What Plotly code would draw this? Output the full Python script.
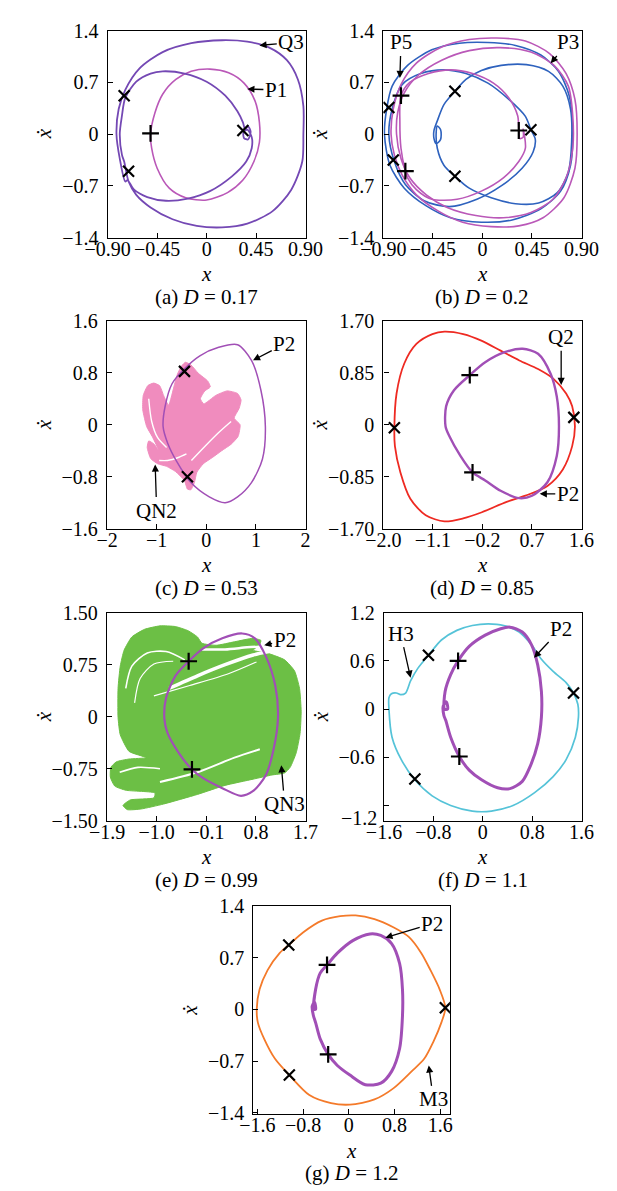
import plotly.graph_objects as go

W, H = 617, 1191
FONT = "Liberation Serif"

# ---------------- (a) D = 0.17 ----------------
a_q3_x = [-0.74, -0.79, -0.82, -0.80, -0.74, -0.61, -0.40, -0.14, 0.14, 0.37, 0.57, 0.73, 0.83, 0.88, 0.88,
          0.87, 0.77, 0.60, 0.37, 0.14, -0.09, -0.31, -0.51, -0.64, -0.71, -0.75,
          -0.77, -0.79, -0.77, -0.74, -0.64, -0.51, -0.40, -0.20, 0.00, 0.17, 0.28, 0.33,
          0.35, 0.376, 0.40, 0.376, 0.34, 0.336, 0.37, 0.41,
          0.41, 0.36, 0.23, 0.03, -0.17, -0.37, -0.54, -0.66, -0.72, -0.74]
a_q3_y = [-0.64, -0.33, 0.00, 0.34, 0.60, 0.89, 1.11, 1.23, 1.27, 1.25, 1.17, 1.00, 0.74, 0.38, 0.00,
          -0.37, -0.75, -1.04, -1.21, -1.26, -1.24, -1.15, -0.99, -0.82, -0.64, -0.37,
          -0.28, 0.00, 0.25, 0.49, 0.71, 0.82, 0.85, 0.82, 0.71, 0.52, 0.31, 0.16,
          0.07, 0.106, 0.035, -0.071, -0.053, 0.027, 0.062, -0.04,
          -0.19, -0.37, -0.57, -0.77, -0.87, -0.90, -0.85, -0.75, -0.62, -0.64]
a_p1_x = [-0.51, -0.47, -0.40, -0.28, -0.14, 0.03, 0.20, 0.34, 0.44, 0.48, 0.48, 0.43, 0.33, 0.19, 0.00,
          -0.19, -0.34, -0.45, -0.50, -0.51]
a_p1_y = [0.00, 0.29, 0.54, 0.74, 0.85, 0.88, 0.83, 0.69, 0.45, 0.16, -0.11, -0.37, -0.62, -0.79, -0.89,
          -0.86, -0.73, -0.46, -0.19, 0.00]
a_cross_x, a_cross_y = [-0.75, -0.71, 0.33], [0.52, -0.50, 0.05]
a_plus_x, a_plus_y = [-0.51], [0.01]

# ---------------- (b) D = 0.2 ----------------
b_p3_outer_x = [-0.83, -0.81, -0.74, -0.60, -0.37, -0.12, 0.13, 0.39, 0.61, 0.76, 0.84, 0.86, 0.84, 0.74, 0.55,
                0.33, 0.08, -0.18, -0.40, -0.60, -0.73, -0.80, -0.83]
b_p3_outer_y = [0.00, 0.34, 0.67, 0.96, 1.18, 1.28, 1.30, 1.26, 1.09, 0.82, 0.47, 0.00, -0.46, -0.86, -1.13,
                -1.24, -1.25, -1.19, -1.04, -0.82, -0.55, -0.28, 0.00]
b_p3_mid_x = [-0.78, -0.77, -0.71, -0.58, -0.37, -0.12, 0.16, 0.44, 0.65, 0.78, 0.82, 0.82, 0.76, 0.64, 0.44,
              0.19, -0.06, -0.32, -0.51, -0.66, -0.74, -0.78]
b_p3_mid_y = [0.00, 0.29, 0.56, 0.80, 1.00, 1.13, 1.17, 1.11, 0.93, 0.65, 0.25, -0.19, -0.59, -0.88, -1.06,
              -1.13, -1.10, -0.99, -0.82, -0.59, -0.33, 0.00]
b_p3_inner_x = [-0.70, -0.74, -0.75, -0.74, -0.66, -0.49, -0.29, -0.09, 0.10, 0.24, 0.32, 0.33, 0.34, 0.37,
                0.37, 0.39, 0.33, 0.19, -0.01, -0.23, -0.46, -0.60, -0.68, -0.70]
b_p3_inner_y = [-0.50, -0.19, 0.16, 0.52, 0.70, 0.82, 0.87, 0.82, 0.69, 0.49, 0.25, 0.07, -0.06, -0.04,
                0.07, -0.19, -0.37, -0.59, -0.77, -0.88, -0.88, -0.75, -0.59, -0.50]
b_p5_outer_x = [-0.89, -0.87, -0.82, -0.68, -0.46, -0.21, 0.05, 0.30, 0.53, 0.69, 0.79, 0.82, 0.80, 0.71, 0.53,
                0.27, -0.01, -0.29, -0.51, -0.71, -0.84, -0.89]
b_p5_outer_y = [0.00, 0.34, 0.65, 0.93, 1.14, 1.23, 1.24, 1.20, 1.07, 0.85, 0.51, 0.00, -0.42, -0.77, -1.01,
                -1.16, -1.19, -1.13, -0.97, -0.73, -0.42, 0.00]
b_p5_loop_x = [-0.25, -0.35, -0.41, -0.44, -0.44, -0.42, -0.38, -0.38, -0.41, -0.42, -0.41, -0.35, -0.25, -0.12,
               0.08, 0.30, 0.51, 0.68, 0.78, 0.81, 0.80, 0.73, 0.60, 0.40, 0.17, -0.01, -0.15, -0.25]
b_p5_loop_y = [0.58, 0.40, 0.18, 0.05, -0.06, -0.13, -0.07, 0.06, 0.11, 0.03, -0.19, -0.42, -0.57, -0.73,
               -0.86, -0.94, -0.93, -0.79, -0.51, -0.11, 0.34, 0.65, 0.85, 0.94, 0.93, 0.86, 0.74, 0.58]
b_p5_strand_x = [-0.85, -0.82, -0.73, -0.56, -0.35, -0.15, 0.05, 0.24, 0.39, 0.44, 0.48, 0.46, 0.36, 0.17,
                 -0.05, -0.30, -0.53, -0.70, -0.80, -0.85]
b_p5_strand_y = [0.00, 0.34, 0.67, 0.82, 0.87, 0.82, 0.69, 0.47, 0.24, 0.06, -0.07, -0.24, -0.46, -0.70,
                 -0.88, -0.98, -0.90, -0.68, -0.37, 0.00]
b_cross_x, b_cross_y = [-0.85, -0.81, -0.25, -0.25, 0.44], [0.36, -0.35, 0.58, -0.57, 0.06]
b_plus_x, b_plus_y = [-0.74, -0.70, 0.33], [0.52, -0.50, 0.05]

# ---------------- (c) D = 0.53 ----------------
c_qn2_x = [-0.58, -0.50, -0.42, -0.31, -0.16, 0.03, 0.08, -0.03, -0.12, -0.05, 0.19, 0.42, 0.63, 0.70, 0.66,
           0.56, 0.68, 0.64, 0.50, 0.31, 0.13, -0.06, -0.19, -0.24, -0.31, -0.38, -0.44, -0.62, -0.80, -0.98,
           -1.12, -1.19, -1.16, -1.05, -0.94, -1.09, -1.20, -1.28, -1.27, -1.18, -1.06, -0.94, -0.86,
           -0.76, -0.64, -0.58]
c_qn2_y = [0.78, 0.90, 0.96, 0.92, 0.79, 0.67, 0.58, 0.52, 0.40, 0.32, 0.45, 0.52, 0.48, 0.38, 0.25,
           0.10, 0.00, -0.18, -0.30, -0.40, -0.50, -0.60, -0.73, -0.89, -1.00, -0.99, -0.86, -0.72, -0.64, -0.60,
           -0.52, -0.35, -0.25, -0.30, -0.42, -0.18, -0.03, 0.23, 0.45, 0.60, 0.64, 0.60, 0.45,
           0.30, 0.62, 0.78]
c_streak1_x = [-1.16, -1.10, -0.98, -0.80]
c_streak1_y = [0.40, 0.05, -0.20, -0.35]
c_streak2_x = [-0.95, -0.78, -0.55, -0.40]
c_streak2_y = [-0.55, -0.55, -0.50, -0.45]
c_streak3_x = [-0.30, -0.05, 0.25, 0.50]
c_streak3_y = [-0.55, -0.35, -0.12, 0.05]
c_p2_x = [-0.87, -0.83, -0.69, -0.44, -0.13, 0.25, 0.63, 0.91, 1.10, 1.19, 1.13, 0.91, 0.63, 0.38, 0.06,
          -0.31, -0.60, -0.78, -0.87]
c_p2_y = [-0.03, 0.28, 0.63, 0.86, 1.06, 1.19, 1.23, 0.99, 0.53, -0.03, -0.53, -0.89, -1.11, -1.20, -1.11,
          -0.89, -0.56, -0.28, -0.03]
c_cross_x, c_cross_y = [-0.44, -0.38], [0.82, -0.80]

# ---------------- (d) D = 0.85 ----------------
d_q2_x = [-1.80, -1.76, -1.62, -1.40, -1.11, -0.89, -0.55, -0.21, 0.13, 0.47, 0.81, 1.09, 1.32, 1.43, 1.48,
          1.43, 1.26, 0.98, 0.58, 0.24, -0.21, -0.55, -0.89, -1.23, -1.51, -1.69, -1.79, -1.80]
d_q2_y = [-0.05, 0.51, 1.00, 1.32, 1.48, 1.52, 1.48, 1.37, 1.21, 1.05, 0.91, 0.75, 0.51, 0.30, -0.03,
          -0.35, -0.73, -1.00, -1.16, -1.26, -1.43, -1.53, -1.58, -1.48, -1.21, -0.78, -0.35, -0.05]
d_p2_x = [-0.87, -0.86, -0.72, -0.43, -0.15, 0.19, 0.53, 0.81, 1.04, 1.15, 1.19, 1.15, 0.98, 0.70, 0.47,
          0.13, -0.15, -0.38, -0.60, -0.80, -0.87]
d_p2_y = [-0.03, 0.30, 0.56, 0.81, 1.02, 1.18, 1.24, 1.16, 0.83, 0.46, -0.03, -0.51, -0.94, -1.16, -1.20,
          -1.08, -0.91, -0.78, -0.51, -0.19, -0.03]
d_cross_x, d_cross_y = [-1.80, 1.46], [-0.05, 0.12]
d_plus_x, d_plus_y = [-0.43, -0.38], [0.81, -0.78]

# ---------------- (e) D = 0.99 ----------------
e_qn3_x = [-1.70, -1.70, -1.66, -1.59, -1.45, -1.22, -0.94, -0.66, -0.43, -0.26, -0.18, 0.08, 0.41, 0.75, 0.89,
           0.86, 0.75, 1.03, 1.32, 1.50, 1.59, 1.62, 1.60, 1.53, 1.42, 1.32, 1.09, 0.75, 0.24, -0.26, -0.88,
           -1.28, -1.53, -1.61, -1.48, -1.05, -1.03, -1.56, -1.76, -1.84, -1.83, -1.73, -1.50, -1.19, -1.50,
           -1.66, -1.70]
e_qn3_y = [-0.01, 0.41, 0.73, 0.96, 1.15, 1.26, 1.31, 1.30, 1.24, 1.15, 1.06, 1.03, 1.08, 1.13, 1.10,
           1.03, 0.96, 0.91, 0.82, 0.66, 0.41, 0.08, -0.24, -0.52, -0.73, -0.81, -0.84, -0.90, -0.99, -1.12, -1.26,
           -1.33, -1.34, -1.28, -1.20, -1.17, -1.10, -1.06, -1.00, -0.87, -0.73, -0.65, -0.61, -0.59, -0.50,
           -0.26, -0.01]
e_gap1_x = [-0.77, -0.26, 0.24, 0.75, 1.03]
e_gap1_y = [0.41, 0.59, 0.75, 0.89, 0.94]
e_gap2_x = [-0.18, 0.24, 0.64, 0.86]
e_gap2_y = [0.97, 0.97, 1.00, 1.01]
e_gap3_x = [-0.94, -0.26, 0.41, 0.87]
e_gap3_y = [-0.94, -0.80, -0.59, -0.47]
e_gap4_x = [-1.56, -1.45, -1.17, -0.83, -0.49]
e_gap4_y = [0.41, 0.73, 0.92, 0.94, 0.82]
e_gap5_x = [-1.67, -1.34, -0.94]
e_gap5_y = [-0.80, -0.73, -0.75]
e_gap6_x = [-1.05, -0.40, 0.30, 0.81]
e_gap6_y = [0.30, 0.45, 0.62, 0.79]
e_gap7_x = [-1.40, -1.30, -1.05, -0.70]
e_gap7_y = [0.20, 0.55, 0.76, 0.80]
e_p2_x = [-0.86, -0.83, -0.66, -0.42, -0.15, 0.19, 0.55, 0.78, 0.98, 1.15, 1.20, 1.12, 0.98, 0.75, 0.53,
          0.19, -0.15, -0.36, -0.60, -0.80, -0.86]
e_p2_y = [-0.03, 0.27, 0.59, 0.80, 0.99, 1.13, 1.20, 1.13, 0.87, 0.45, 0.00, -0.47, -0.84, -1.07, -1.14,
          -1.03, -0.89, -0.76, -0.52, -0.24, -0.03]
e_plus_x, e_plus_y = [-0.42, -0.36], [0.80, -0.76]

# ---------------- (f) D = 1.1 ----------------
f_h3_x = [-1.52, -1.52, -1.48, -1.40, -1.33, -1.25, -1.17, -1.05, -0.88, -0.67, -0.42, -0.17, 0.09, 0.34, 0.59,
          0.79, 0.94, 1.14, 1.35, 1.47, 1.54, 1.55, 1.50, 1.35, 1.14, 0.84, 0.49, 0.14, -0.17, -0.52, -0.82,
          -1.10, -1.32, -1.47, -1.52]
f_h3_y = [0.00, 0.14, 0.19, 0.20, 0.18, 0.20, 0.35, 0.51, 0.67, 0.86, 0.98, 1.04, 1.06, 1.04, 0.96,
          0.80, 0.63, 0.47, 0.33, 0.20, 0.06, -0.10, -0.35, -0.63, -0.84, -1.04, -1.20, -1.27, -1.27, -1.20, -1.08,
          -0.88, -0.63, -0.35, 0.00]
f_p2_x = [-0.62, -0.61, -0.52, -0.40, -0.22, 0.04, 0.29, 0.44, 0.64, 0.79, 0.89, 0.95, 0.95, 0.89, 0.77,
          0.64, 0.44, 0.24, -0.02, -0.22, -0.38, -0.52, -0.60, -0.63, -0.64, -0.59, -0.57, -0.62]
f_p2_y = [0.00, 0.22, 0.43, 0.60, 0.78, 0.92, 1.00, 1.02, 0.96, 0.80, 0.55, 0.22, -0.10, -0.43, -0.71,
          -0.90, -0.99, -0.98, -0.88, -0.76, -0.59, -0.35, -0.14, -0.08, 0.04, 0.09, 0.00, 0.00]
f_cross_x, f_cross_y = [-0.88, 1.47, -1.10], [0.67, 0.20, -0.87]
f_plus_x, f_plus_y = [-0.40, -0.38], [0.60, -0.59]

# ---------------- (g) D = 1.2 ----------------
g_m3_x = [-1.61, -1.56, -1.42, -1.21, -1.05, -0.80, -0.47, -0.15, 0.12, 0.45, 0.78, 1.05, 1.27, 1.43, 1.59,
          1.69, 1.62, 1.48, 1.32, 1.10, 0.78, 0.45, 0.02, -0.31, -0.69, -1.04, -1.29, -1.48, -1.59, -1.61]
g_m3_y = [0.00, 0.27, 0.53, 0.76, 0.87, 1.04, 1.20, 1.26, 1.27, 1.22, 1.11, 0.98, 0.76, 0.53, 0.27,
          0.02, -0.18, -0.44, -0.67, -0.84, -1.07, -1.22, -1.29, -1.27, -1.16, -0.89, -0.67, -0.40, -0.18, 0.00]
g_p2_x = [-0.61, -0.58, -0.50, -0.38, -0.20, 0.07, 0.37, 0.56, 0.75, 0.89, 0.94, 0.94, 0.89, 0.75, 0.56,
          0.29, 0.02, -0.20, -0.36, -0.50, -0.58, -0.62, -0.64, -0.60, -0.58, -0.61]
g_p2_y = [0.00, 0.27, 0.49, 0.60, 0.76, 0.93, 1.02, 1.00, 0.89, 0.62, 0.27, -0.09, -0.53, -0.84, -1.00,
          -1.02, -0.89, -0.76, -0.61, -0.40, -0.18, -0.08, 0.04, 0.10, 0.00, 0.00]
g_cross_x, g_cross_y = [-1.05, 1.69, -1.04], [0.87, 0.02, -0.89]
g_plus_x, g_plus_y = [-0.38, -0.36], [0.60, -0.61]

# ---------------- axes: ticks and captions ----------------
panels = {
    "a": dict(frame=(90.7, 302.7, 20.0, 231.0), xr=[-0.9, 0.9], yr=[-1.4, 1.4],
              xt=[-0.9, -0.45, 0, 0.45, 0.9], xl=["−0.90", "−0.45", "0", "0.45", "0.90"],
              yt=[-1.4, -0.7, 0, 0.7, 1.4], yl=["−1.4", "−0.7", "0", "0.7", "1.4"],
              cap="(a) <i>D</i> = 0.17"),
    "b": dict(frame=(386.0, 598.3, 20.0, 231.0), xr=[-0.9, 0.9], yr=[-1.4, 1.4],
              xt=[-0.9, -0.45, 0, 0.45, 0.9], xl=["−0.90", "−0.45", "0", "0.45", "0.90"],
              yt=[-1.4, -0.7, 0, 0.7, 1.4], yl=["−1.4", "−0.7", "0", "0.7", "1.4"],
              cap="(b) <i>D</i> = 0.2"),
    "c": dict(frame=(90.0, 302.7, 315.5, 527.5), xr=[-2, 2], yr=[-1.6, 1.6],
              xt=[-2, -1, 0, 1, 2], xl=["−2", "−1", "0", "1", "2"],
              yt=[-1.6, -0.8, 0, 0.8, 1.6], yl=["−1.6", "−0.8", "0", "0.8", "1.6"],
              cap="(c) <i>D</i> = 0.53"),
    "d": dict(frame=(386.0, 598.3, 315.5, 527.5), xr=[-2.0, 1.6], yr=[-1.7, 1.7],
              xt=[-2.0, -1.1, -0.2, 0.7, 1.6], xl=["−2.0", "−1.1", "−0.2", "0.7", "1.6"],
              yt=[-1.7, -0.85, 0, 0.85, 1.7], yl=["−1.70", "−0.85", "0", "0.85", "1.70"],
              cap="(d) <i>D</i> = 0.85"),
    "e": dict(frame=(90.0, 302.7, 613.0, 825.0), xr=[-1.9, 1.7], yr=[-1.5, 1.5],
              xt=[-1.9, -1.0, -0.1, 0.8, 1.7], xl=["−1.9", "−1.0", "−0.1", "0.8", "1.7"],
              yt=[-1.5, -0.75, 0, 0.75, 1.5], yl=["−1.50", "−0.75", "0", "0.75", "1.50"],
              cap="(e) <i>D</i> = 0.99"),
    "f": dict(frame=(386.7, 598.3, 613.0, 825.0), xr=[-1.6, 1.6], yr=[-1.39, 1.2],
              xt=[-1.6, -0.8, 0, 0.8, 1.6], xl=["−1.6", "−0.8", "0", "0.8", "1.6"],
              yt=[-1.2, -0.6, 0, 0.6, 1.2], yl=["", "−0.6", "0", "0.6", "1.2"],
              cap="(f) <i>D</i> = 1.1"),
    "g": dict(frame=(246.7, 457.3, 911.7, 1124.0), xr=[-1.67, 1.77], yr=[-1.42, 1.4],
              xt=[-1.6, -0.8, 0, 0.8, 1.6], xl=["−1.6", "−0.8", "0", "0.8", "1.6"],
              yt=[-1.4, -0.7, 0, 0.7, 1.4], yl=["−1.4", "−0.7", "0", "0.7", "1.4"],
              cap="(g) <i>D</i> = 1.2"),
}
order = ["a", "b", "c", "d", "e", "f", "g"]
axid = {k: ("" if i == 0 else str(i + 1)) for i, k in enumerate(order)}

PURPLE_Q = "#7448B4"
MAGENTA = "#BA58B8"
BLUE = "#2E62BE"
PINK = "#F08CBE"
P2C = "#A14FB6"
RED = "#EE2A22"
GREEN = "#6CBF45"
CYAN = "#55C3D8"
ORANGE = "#F47A2A"

TXT = 21      # captions, axis titles, curve labels
TICK = 20     # tick labels

fig = go.Figure()


def ax(k):
    return dict(xaxis="x" + axid[k], yaxis="y" + axid[k])


def curve(k, xs, ys, color, width, smoothing=0.8):
    fig.add_trace(go.Scatter(x=xs, y=ys, mode="lines",
                             line=dict(color=color, width=width, shape="spline", smoothing=smoothing),
                             hoverinfo="skip", **ax(k)))


def blob(k, xs, ys, color):
    fig.add_trace(go.Scatter(x=xs, y=ys, mode="lines", fill="toself", fillcolor=color,
                             line=dict(color=color, width=1, shape="spline", smoothing=0.5),
                             hoverinfo="skip", **ax(k)))


def marks(k, xs, ys, sym):
    fig.add_trace(go.Scatter(x=xs, y=ys, mode="markers",
                             marker=dict(symbol=sym, size=11 if sym == "x-thin" else 12,
                                         line=dict(color="black", width=2.2), color="black"),
                             hoverinfo="skip", **ax(k)))


# (a)
curve("a", a_p1_x, a_p1_y, MAGENTA, 1.6)
curve("a", a_q3_x, a_q3_y, PURPLE_Q, 1.8)
marks("a", a_cross_x, a_cross_y, "x-thin")
marks("a", a_plus_x, a_plus_y, "cross-thin")
# (b)
curve("b", b_p5_outer_x, b_p5_outer_y, BLUE, 1.6)
curve("b", b_p5_loop_x, b_p5_loop_y, BLUE, 1.6)
curve("b", b_p5_strand_x, b_p5_strand_y, BLUE, 1.6)
curve("b", b_p3_outer_x, b_p3_outer_y, MAGENTA, 1.6)
curve("b", b_p3_mid_x, b_p3_mid_y, MAGENTA, 1.6)
curve("b", b_p3_inner_x, b_p3_inner_y, MAGENTA, 1.6)
marks("b", b_cross_x, b_cross_y, "x-thin")
marks("b", b_plus_x, b_plus_y, "cross-thin")
# (c)
blob("c", c_qn2_x, c_qn2_y, PINK)
for sx, sy in [(c_streak1_x, c_streak1_y), (c_streak2_x, c_streak2_y), (c_streak3_x, c_streak3_y)]:
    curve("c", sx, sy, "white", 1.4)
curve("c", c_p2_x, c_p2_y, P2C, 1.5)
marks("c", c_cross_x, c_cross_y, "x-thin")
# (d)
curve("d", d_q2_x, d_q2_y, RED, 1.8)
curve("d", d_p2_x, d_p2_y, P2C, 2.4)
marks("d", d_cross_x, d_cross_y, "x-thin")
marks("d", d_plus_x, d_plus_y, "cross-thin")
# (e)
blob("e", e_qn3_x, e_qn3_y, GREEN)
for gx, gy, gw in [(e_gap1_x, e_gap1_y, 3.5), (e_gap2_x, e_gap2_y, 2.5), (e_gap3_x, e_gap3_y, 2),
                   (e_gap4_x, e_gap4_y, 1.6), (e_gap5_x, e_gap5_y, 1.6), (e_gap6_x, e_gap6_y, 1.2),
                   (e_gap7_x, e_gap7_y, 1.2)]:
    curve("e", gx, gy, "white", gw)
curve("e", e_p2_x, e_p2_y, P2C, 2.2)
marks("e", e_plus_x, e_plus_y, "cross-thin")
# (f)
curve("f", f_h3_x, f_h3_y, CYAN, 1.7)
curve("f", f_p2_x, f_p2_y, P2C, 3.0)
marks("f", f_cross_x, f_cross_y, "x-thin")
marks("f", f_plus_x, f_plus_y, "cross-thin")
# (g)
curve("g", g_m3_x, g_m3_y, ORANGE, 1.8)
curve("g", g_p2_x, g_p2_y, P2C, 3.0)
marks("g", g_cross_x, g_cross_y, "x-thin")
marks("g", g_plus_x, g_plus_y, "cross-thin")

layout = dict(width=W, height=H, margin=dict(l=0, r=0, t=0, b=0), showlegend=False,
              paper_bgcolor="white", plot_bgcolor="white",
              font=dict(family=FONT, size=TXT, color="black"))
ann = []
TICKF = dict(family=FONT, size=TICK, color="black")
for k in order:
    p = panels[k]
    l, r, t, b = p["frame"]
    common = dict(showline=True, mirror=True, linecolor="black", linewidth=1.3, ticks="inside",
                  ticklen=5, tickwidth=1.2, tickcolor="black", showgrid=False, zeroline=False,
                  tickfont=TICKF, tickmode="array", fixedrange=True)
    layout["xaxis" + axid[k]] = dict(domain=[l / W, r / W], range=p["xr"], tickvals=p["xt"],
                                     ticktext=p["xl"], anchor="y" + axid[k], ticklabelstandoff=-7, **common)
    layout["yaxis" + axid[k]] = dict(domain=[1 - b / H, 1 - t / H], range=p["yr"], tickvals=p["yt"],
                                     ticktext=p["yl"], anchor="x" + axid[k], ticklabelstandoff=4, **common)
    cx = (l + r) / 2
    cy = (t + b) / 2
    ann.append(dict(text="<i>x</i>", x=cx / W, y=1 - (b + 37) / H, xref="paper", yref="paper",
                    showarrow=False, xanchor="center", yanchor="middle"))
    ann.append(dict(text="<i>x\u0307</i>", x=(l - 68) / W, y=1 - cy / H, xref="paper", yref="paper",
                    showarrow=False, xanchor="center", yanchor="middle", textangle=-90))
    ann.append(dict(text=p["cap"], x=cx / W, y=1 - (b + 60) / H, xref="paper", yref="paper",
                    showarrow=False, xanchor="center", yanchor="middle"))

# label for the lowest tick of (f), set at the frame corner
fl, fr, ft, fb = panels["f"]["frame"]
ann.append(dict(text="−1.2", x=(fl - 5) / W, y=1 - (fb - 3) / H, xref="paper", yref="paper",
                showarrow=False, xanchor="right", yanchor="middle", font=dict(size=TICK)))


def label(k, text, hx, hy, tx, ty):
    ann.append(dict(text=text, x=hx, y=hy, xref="x" + axid[k], yref="y" + axid[k],
                    ax=tx, ay=ty, axref="x" + axid[k], ayref="y" + axid[k],
                    showarrow=True, arrowhead=2, arrowsize=1.1, arrowwidth=1.3, arrowcolor="black",
                    standoff=0))


label("a", "Q3", 0.48, 1.20, 0.77, 1.24)
label("a", "P1", 0.37, 0.61, 0.63, 0.60)
label("b", "P5", -0.75, 0.76, -0.74, 1.24)
label("b", "P3", 0.62, 0.96, 0.78, 1.24)
label("c", "P2", 0.94, 0.99, 1.57, 1.24)
label("c", "QN2", -1.03, -0.61, -1.0, -1.32)
label("d", "Q2", 1.23, 0.65, 1.23, 1.43)
label("d", "P2", 0.84, -1.13, 1.35, -1.13)
label("e", "P2", 0.95, 1.03, 1.32, 1.10)
label("e", "QN3", 1.26, -0.70, 1.32, -1.26)
label("f", "H3", -1.17, 0.39, -1.33, 0.94)
label("f", "P2", 0.83, 0.64, 1.27, 1.00)
label("g", "P2", 0.64, 0.97, 1.46, 1.16)
label("g", "M3", 1.40, -0.76, 1.48, -1.22)

layout["annotations"] = ann
fig.update_layout(**layout)
fig.write_html("out.html")
